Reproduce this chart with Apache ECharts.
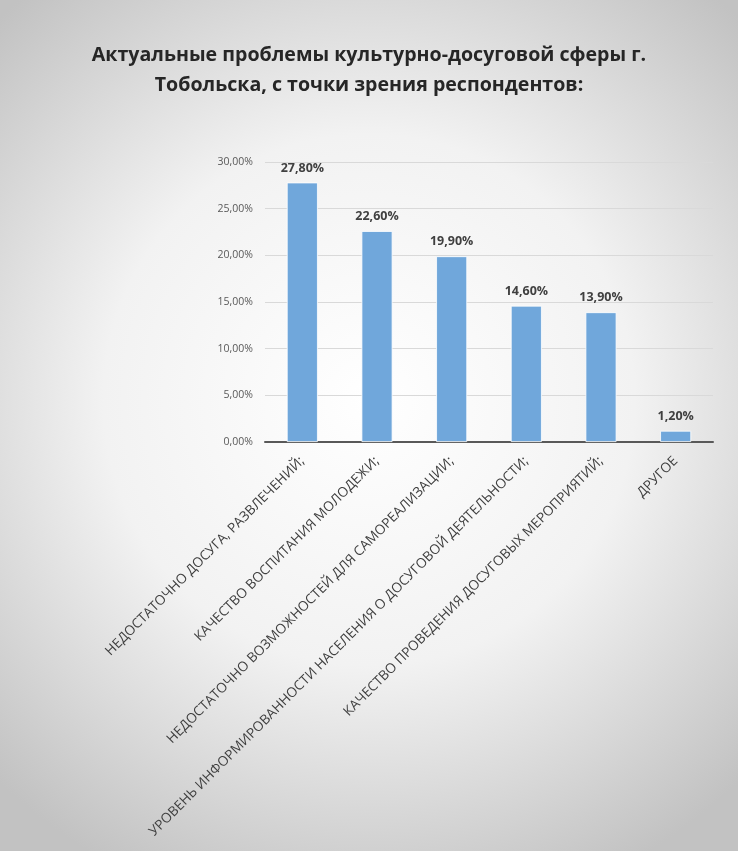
<!DOCTYPE html>
<html>
<head>
<meta charset="utf-8">
<script src="https://cdn.jsdelivr.net/npm/echarts@6/dist/echarts.min.js"></script>
<style>
  html, body { margin: 0; padding: 0; }
  #chart { width: 738px; height: 851px; }
</style>
</head>
<body>
<div id="chart"></div>
<script>
// данные опроса
const categories = [
  'НЕДОСТАТОЧНО ДОСУГА, РАЗВЛЕЧЕНИЙ;',
  'КАЧЕСТВО ВОСПИТАНИЯ МОЛОДЕЖИ;',
  'НЕДОСТАТОЧНО ВОЗМОЖНОСТЕЙ ДЛЯ САМОРЕАЛИЗАЦИИ;',
  'УРОВЕНЬ ИНФОРМИРОВАННОСТИ НАСЕЛЕНИЯ О ДОСУГОВОЙ ДЕЯТЕЛЬНОСТИ;',
  'КАЧЕСТВО ПРОВЕДЕНИЯ ДОСУГОВЫХ МЕРОПРИЯТИЙ;',
  'ДРУГОЕ'
];
const values = [27.8, 22.6, 19.9, 14.6, 13.9, 1.2];
const yTicks = [0, 5, 10, 15, 20, 25, 30];

const fmt = (v) => v.toFixed(2).replace('.', ',') + '%';

const chart = echarts.init(document.getElementById('chart'), null, { renderer: 'canvas' });
chart.setOption({
  animation: false,
  backgroundColor: {
    type: 'radial', x: 0.5, y: 0.47, r: 0.72,
    colorStops: [
      { offset: 0, color: '#ffffff' },
      { offset: 0.5, color: '#f2f2f2' },
      { offset: 1, color: '#c2c2c2' }
    ]
  },
  title: {
    text: 'Актуальные проблемы культурно-досуговой сферы г.\nТобольска, с точки зрения респондентов:',
    left: 'center',
    top: 35,
    textStyle: {
      fontFamily: 'Open Sans',
      fontWeight: 'bold',
      fontSize: 19.6,
      color: '#262626',
      lineHeight: 30
    }
  },
  grid: { left: 265, right: 25, top: 162, bottom: 409, containLabel: false },
  xAxis: {
    type: 'category',
    data: categories,
    axisTick: { show: false },
    axisLine: { lineStyle: { color: '#595959', width: 2 } },
    axisLabel: {
      interval: 0,
      rotate: 45,
      margin: 17,
      fontFamily: 'Open Sans',
      fontSize: 13.6,
      color: '#404040'
    }
  },
  yAxis: {
    type: 'value',
    min: yTicks[0],
    max: yTicks[yTicks.length - 1],
    interval: 5,
    axisLine: { show: false },
    axisTick: { show: false },
    splitLine: { lineStyle: { color: '#d9d9d9', width: 1 } },
    axisLabel: {
      formatter: fmt,
      margin: 12,
      fontFamily: 'Open Sans',
      fontSize: 10.5,
      color: '#595959'
    }
  },
  series: [{
    type: 'bar',
    data: values,
    barWidth: 31,
    itemStyle: { color: '#70a7db', borderColor: '#ffffff', borderWidth: 0.8 },
    label: {
      show: true,
      position: 'top',
      distance: 8,
      formatter: (p) => fmt(p.value),
      fontFamily: 'Open Sans',
      fontWeight: 'bold',
      fontSize: 12.5,
      color: '#404040'
    }
  }]
});
</script>
</body>
</html>
